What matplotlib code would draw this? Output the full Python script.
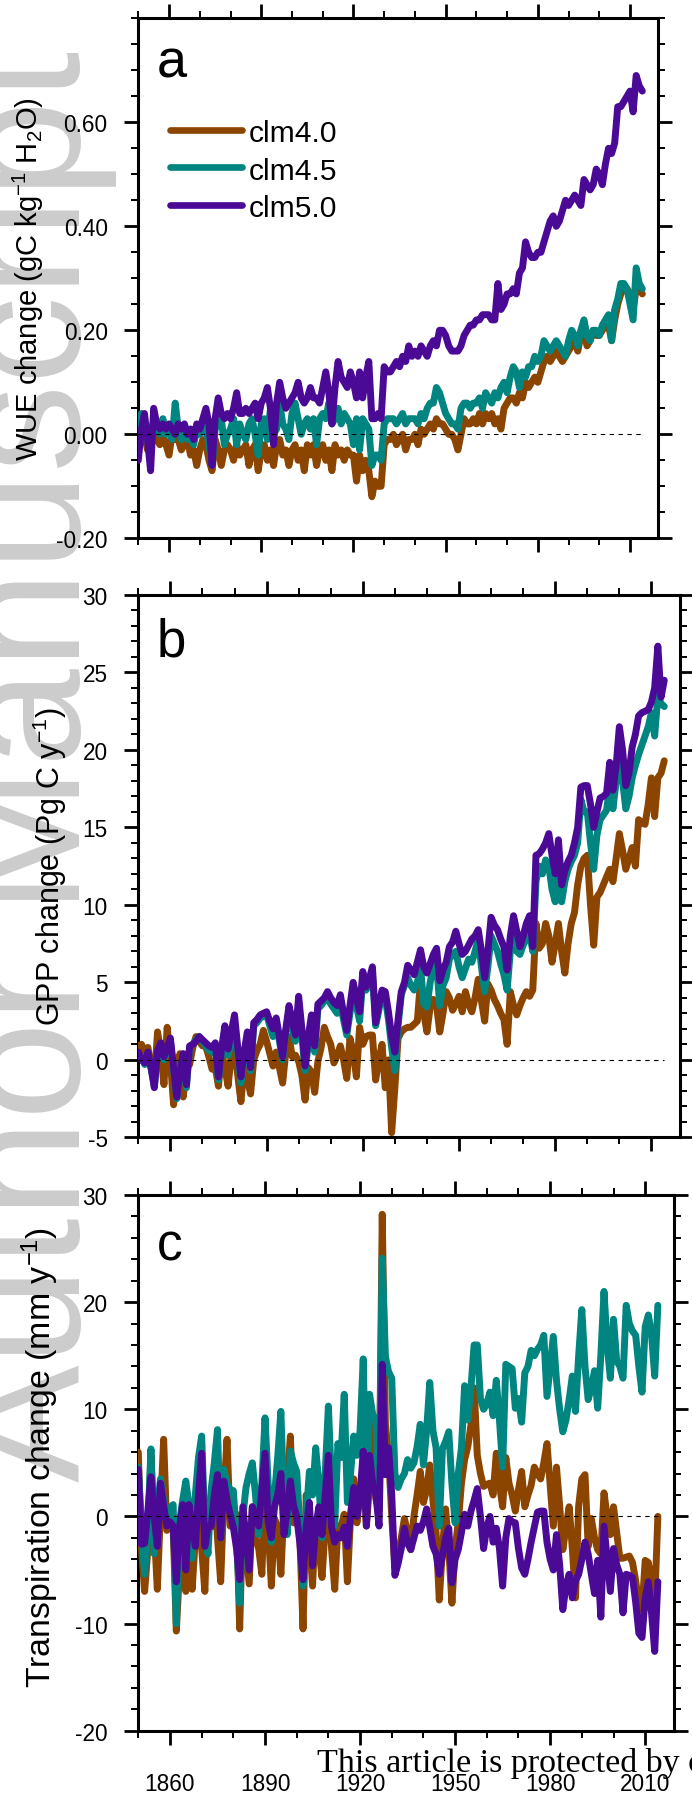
import matplotlib
matplotlib.use("Agg")
import matplotlib.pyplot as plt
import numpy as np
from matplotlib.lines import Line2D
from matplotlib.ticker import FixedLocator, MultipleLocator, FormatStrFormatter

plt.rcParams["font.family"] = ["Liberation Sans", "DejaVu Sans"]
plt.rcParams["mathtext.fontset"] = "custom"
plt.rcParams["mathtext.rm"] = "Liberation Sans"
plt.rcParams["mathtext.it"] = "Liberation Sans"
plt.rcParams["axes.unicode_minus"] = False

# ---- data: annual global changes, 1850-2014 ----
years = np.arange(1850, 2015)
models = ["clm4.0", "clm4.5", "clm5.0"]
colors = ["#8B4500", "#008580", "#4B0A96"]

wue_clm40 = [
    0.00, 0.03, 0.00, -0.03, -0.01, 0.02, -0.01, -0.02, 0.00, -0.02,
    -0.04, 0.00, -0.01, -0.01, -0.03, -0.02, -0.01, -0.04, -0.03, -0.06,
    -0.03, -0.01, -0.02, -0.05, -0.07, -0.01, -0.03, -0.06, -0.03, -0.02,
    -0.03, -0.05, -0.02, -0.04, -0.03, -0.02, -0.06, -0.03, -0.02, -0.07,
    -0.03, -0.02, -0.05, -0.03, -0.06, -0.02, -0.01, -0.04, -0.03, -0.06,
    -0.03, -0.02, -0.05, -0.03, -0.07, -0.02, -0.04, -0.02, -0.06, -0.03,
    -0.02, -0.05, -0.03, -0.07, -0.02, -0.04, -0.03, -0.05, -0.03, -0.04,
    -0.04, -0.09, -0.04, -0.07, -0.05, -0.07, -0.12, -0.09, -0.10, -0.10,
    -0.02, -0.01, -0.01, 0.00, -0.02, -0.01, 0.00, -0.03, -0.01, -0.01,
    0.00, -0.02, 0.01, 0.00, 0.01, 0.02, 0.01, 0.03, 0.02, 0.02,
    0.01, 0.00, 0.00, -0.01, -0.03, 0.00, 0.03, 0.02, 0.02, 0.03,
    0.02, 0.04, 0.02, 0.04, 0.03, 0.04, 0.02, 0.03, 0.01, 0.05,
    0.06, 0.07, 0.07, 0.06, 0.08, 0.07, 0.10, 0.09, 0.10, 0.11,
    0.10, 0.12, 0.14, 0.15, 0.14, 0.15, 0.16, 0.15, 0.14, 0.15,
    0.16, 0.17, 0.18, 0.16, 0.19, 0.20, 0.17, 0.18, 0.20, 0.19,
    0.19, 0.20, 0.21, 0.21, 0.18, 0.22, 0.25, 0.27, 0.28, 0.28,
    0.27, 0.24, 0.28, 0.28, 0.27]
wue_clm45 = [
    -0.02, 0.04, 0.02, -0.01, -0.03, 0.03, 0.01, 0.00, 0.03, 0.00,
    0.01, -0.01, 0.06, 0.01, -0.01, 0.00, -0.01, 0.01, -0.02, 0.01,
    0.00, 0.02, 0.01, -0.02, -0.06, 0.01, 0.02, 0.03, -0.02, 0.00,
    0.01, 0.03, -0.02, 0.02, 0.00, -0.01, 0.02, 0.03, 0.00, -0.04,
    0.02, 0.03, -0.01, 0.05, 0.00, 0.01, 0.06, 0.02, 0.01, -0.01,
    0.04, 0.06, 0.03, 0.00, 0.02, 0.03, 0.01, 0.03, -0.02, 0.03,
    0.04, 0.03, 0.06, 0.02, 0.03, 0.05, 0.02, 0.04, 0.03, 0.02,
    -0.02, 0.03, -0.03, 0.03, 0.02, 0.01, -0.06, -0.04, -0.04, -0.05,
    0.02, 0.03, 0.03, 0.03, 0.02, 0.03, 0.04, 0.02, 0.03, 0.03,
    0.03, 0.02, 0.04, 0.03, 0.05, 0.06, 0.06, 0.09, 0.08, 0.06,
    0.04, 0.03, 0.02, 0.02, 0.01, 0.05, 0.06, 0.06, 0.05, 0.06,
    0.06, 0.07, 0.05, 0.08, 0.07, 0.06, 0.08, 0.07, 0.09, 0.10,
    0.08, 0.11, 0.13, 0.12, 0.09, 0.12, 0.11, 0.13, 0.13, 0.15,
    0.14, 0.15, 0.18, 0.17, 0.16, 0.17, 0.18, 0.17, 0.16, 0.15,
    0.18, 0.20, 0.19, 0.17, 0.20, 0.22, 0.19, 0.18, 0.20, 0.20,
    0.19, 0.21, 0.22, 0.23, 0.18, 0.24, 0.26, 0.29, 0.29, 0.28,
    0.25, 0.22, 0.32, 0.29, 0.28]
wue_clm50 = [
    -0.05, 0.01, 0.04, -0.01, -0.07, 0.05, 0.02, 0.01, 0.02, 0.01,
    0.02, 0.01, 0.00, 0.02, 0.01, 0.02, 0.00, 0.01, -0.01, 0.02,
    0.01, 0.03, 0.05, 0.02, -0.06, 0.03, 0.07, 0.04, 0.03, 0.04,
    0.03, 0.05, 0.08, 0.04, 0.04, 0.05, 0.04, 0.05, 0.06, 0.03,
    0.06, 0.07, 0.09, 0.05, -0.02, 0.06, 0.10, 0.07, 0.05, 0.06,
    0.07, 0.08, 0.10, 0.07, 0.06, 0.07, 0.09, 0.07, 0.07, 0.06,
    0.09, 0.12, 0.08, 0.02, 0.09, 0.14, 0.11, 0.10, 0.09, 0.12,
    0.10, 0.07, 0.12, 0.07, 0.11, 0.14, 0.03, 0.03, 0.04, 0.03,
    0.13, 0.12, 0.12, 0.13, 0.14, 0.13, 0.15, 0.14, 0.17, 0.15,
    0.16, 0.15, 0.17, 0.16, 0.15, 0.17, 0.18, 0.17, 0.20, 0.20,
    0.19, 0.17, 0.16, 0.16, 0.16, 0.17, 0.19, 0.20, 0.21, 0.21,
    0.22, 0.22, 0.23, 0.23, 0.23, 0.22, 0.22, 0.29, 0.24, 0.25,
    0.27, 0.27, 0.28, 0.27, 0.31, 0.32, 0.37, 0.35, 0.34, 0.34,
    0.35, 0.35, 0.37, 0.39, 0.41, 0.42, 0.40, 0.41, 0.43, 0.45,
    0.44, 0.45, 0.46, 0.45, 0.44, 0.49, 0.48, 0.47, 0.48, 0.51,
    0.50, 0.48, 0.52, 0.55, 0.54, 0.56, 0.63, 0.63, 0.64, 0.65,
    0.66, 0.62, 0.69, 0.67, 0.66]

gpp_clm40 = [
    0.9, 1.0, 0.5, 0.8, -0.5, -1.3, 1.8, 0.5, -1.6, 2.1,
    0.0, -2.9, -1.0, 0.4, -2.4, -0.5, -0.3, 0.8, 1.5, 1.2,
    0.9, 0.9, 0.2, -0.6, -0.5, -1.7, 0.5, -0.5, -1.7, 0.3,
    0.9, -1.0, -2.7, -0.5, -1.2, -2.2, 0.0, 0.6, 1.0, 1.9,
    1.2, 0.4, -0.4, 0.5, -0.5, -1.5, 0.5, 1.5, 0.2, 0.3,
    -0.1, -1.0, -2.6, -0.5, -0.8, -2.1, -0.1, 0.8, 2.1, 1.5,
    1.0, -0.2, 0.3, 0.9, 0.0, -1.2, 1.4, 0.5, -1.1, 2.1,
    1.0, 1.5, 1.6, 1.6, -1.3, 0.0, 1.0, -1.8, 0.0, -4.7,
    -1.8, 1.4, 1.8, 2.0, 2.1, 2.1, 2.3, 2.5, 5.1, 3.0,
    1.8, 3.4, 3.9, 3.5, 1.8, 3.0, 4.4, 4.0, 3.2, 3.6,
    4.1, 3.1, 4.4, 3.6, 3.1, 4.0, 5.2, 3.8, 2.5, 4.9,
    4.5, 3.9, 3.5, 3.0, 2.6, 1.0, 4.4, 3.5, 2.9, 3.5,
    4.0, 4.4, 4.1, 4.5, 8.8, 7.2, 7.5, 8.8, 8.0, 6.3,
    7.5, 8.8, 7.0, 5.6, 7.5, 8.8, 9.5, 11.3, 12.5, 13.0,
    13.2, 10.0, 7.4, 10.5, 10.8, 11.3, 11.8, 12.3, 11.5, 13.0,
    14.6, 13.5, 12.3, 13.0, 13.7, 12.5, 15.5, 15.3, 15.2, 16.5,
    18.2, 15.7, 18.2, 18.5, 19.3]
gpp_clm45 = [
    0.3, 0.2, -0.3, 0.4, -0.6, -1.7, 0.5, 1.0, 0.0, 0.7,
    1.2, -0.6, -2.5, -1.0, 0.3, -1.8, 0.8, 1.0, 1.3, 1.5,
    1.2, 0.9, 0.6, 0.5, 0.7, -1.3, 0.5, 1.9, 0.3, 1.3,
    2.4, 0.5, -1.5, 0.2, 1.5, -0.7, 2.2, 2.4, 2.7, 2.8,
    2.9, 2.2, 1.5, 2.4, 1.2, 0.0, 1.8, 3.2, 2.0, 1.2,
    3.5, 1.6, -0.7, 1.0, 2.5, 0.5, 3.3, 3.5, 3.8, 4.0,
    3.6, 3.3, 3.0, 3.6, 2.6, 1.6, 3.0, 4.6, 3.5, 2.5,
    5.2, 4.5, 4.8, 5.6, 2.2, 3.2, 4.3, 4.0, 2.6, 0.8,
    -0.7, 2.2, 4.2, 4.8, 5.3, 4.8, 4.5, 5.0, 6.0, 3.6,
    3.4, 5.0, 6.0, 6.2, 3.5, 4.8, 5.3, 6.5, 6.8, 7.0,
    6.0, 5.3, 5.9, 6.5, 6.3, 7.0, 7.8, 6.0, 4.4, 6.0,
    8.0, 7.5, 7.0, 6.2, 5.5, 4.5, 7.0, 8.0, 7.0, 6.8,
    7.4, 7.8, 8.2, 7.0, 11.5, 12.5, 12.0, 12.9, 12.5, 11.0,
    10.2, 12.3, 10.2, 11.5, 12.3, 12.8, 13.2, 14.0, 16.8, 16.0,
    16.0, 14.0, 12.3, 14.5, 15.5, 15.8, 16.1, 17.7, 16.2, 18.0,
    19.4, 18.0, 16.2, 17.0, 18.2, 19.0, 19.7, 20.3, 20.9, 21.5,
    22.4, 20.9, 23.5, 23.0, 22.8]
gpp_clm50 = [
    0.5, 0.0, -0.2, 0.5, -0.5, -1.8, 0.6, 1.1, 0.2, 0.8,
    1.4, -0.5, -2.4, -0.8, 0.4, -1.6, 0.9, 1.0, 1.2, 1.5,
    1.3, 1.1, 0.9, 0.8, 1.1, -1.1, 0.8, 2.2, 0.7, 1.8,
    2.9, 0.8, -1.1, 0.5, 1.8, -0.5, 2.4, 2.6, 2.9, 3.0,
    3.1, 2.5, 2.0, 2.7, 1.5, 0.2, 2.0, 3.5, 2.5, 1.6,
    4.1, 2.0, -0.4, 1.5, 2.9, 0.9, 3.6, 3.8, 4.0, 4.4,
    4.0, 3.7, 3.5, 4.2, 3.0, 1.9, 3.5, 5.0, 4.0, 3.1,
    5.7, 4.7, 5.2, 6.0, 2.4, 3.5, 4.5, 4.4, 3.1, 1.5,
    0.5, 2.6, 4.4, 5.0, 6.1, 5.8, 5.5, 6.3, 7.1, 6.0,
    5.6, 6.2, 6.8, 7.2, 5.1, 5.8, 6.3, 7.3, 7.6, 8.3,
    7.5, 6.8, 7.0, 7.4, 7.8, 8.0, 8.4, 7.0, 5.3, 7.0,
    9.2, 8.7, 8.4, 7.8, 7.3, 5.8, 8.0, 9.3, 8.3, 7.3,
    8.0, 8.8, 9.3, 7.3, 13.2, 13.3, 13.6, 14.0, 14.6, 13.2,
    12.0, 14.2, 11.3, 12.2, 12.8, 13.2, 14.0, 15.0, 17.6, 17.7,
    17.7, 16.5, 15.0, 16.0, 16.9, 17.0, 17.2, 19.2, 17.4, 19.0,
    21.5, 20.0, 17.7, 18.5, 20.2, 21.0, 22.2, 22.4, 22.5, 22.6,
    23.1, 24.0, 26.7, 23.4, 24.5]

tr_clm40 = [
    6.0, -3.0, -7.0, -3.1, 5.7, -1.0, -6.8, 0.5, 7.2, -1.3,
    -0.9, -1.0, -10.7, -5.0, -0.2, -7.0, 0.9, -6.8, -2.0, -0.2,
    -3.0, -7.0, 1.3, -1.0, 3.5, -2.0, -6.1, 2.0, 7.2, -0.9,
    -0.5, 0.2, -10.5, 0.2, -3.0, -6.3, 0.9, -2.0, -3.0, -5.4,
    3.1, -1.0, -6.5, -0.2, -1.0, -5.4, 1.0, 3.0, 7.5, -0.6,
    0.2, -2.0, -10.5, 2.0, -2.0, -6.5, -0.2, -3.0, -5.7, -1.0,
    3.9, -3.0, -6.8, -0.9, -1.0, 0.2, -6.1, 0.0, 3.5, -0.6,
    2.0, 5.0, -0.9, 3.0, 8.6, 1.6, 0.5, 28.2, 8.6, 5.7,
    0.0, -4.8, -3.5, -2.0, -0.2, -1.5, -3.1, 0.0, 2.0, 4.2,
    1.3, 2.5, 4.8, 1.5, -1.5, -7.8, -3.0, 0.7, -3.0, -8.1,
    -3.0, -0.6, 3.1, 5.3, 6.5, 8.5, 12.0, 5.7, 4.0, 2.8,
    3.0, 3.1, 2.0, 5.9, 3.0, 0.9, 5.5, 3.1, 2.0, 0.5,
    2.5, 4.2, 0.9, 2.0, 2.9, 4.6, 4.0, 3.5, 5.0, 6.8,
    3.0, -0.9, 4.6, 1.0, -3.1, -1.0, 0.9, -3.0, -7.6, 1.0,
    3.5, 3.9, -2.8, -0.2, -2.0, -3.1, -3.5, 2.2, 0.0, -1.7,
    0.9, -1.5, -3.9, -3.9, -3.8, -3.7, -4.3, -6.0, -8.3, -8.7,
    -4.1, -4.3, -6.0, -8.1, 0.0]
tr_clm45 = [
    4.6, -1.0, -5.4, -0.9, 6.3, -3.5, 0.5, 3.5, 1.5, -0.2,
    0.8, 1.1, -10.0, -0.6, 1.5, 3.3, 1.0, -3.9, 2.0, 5.5,
    7.5, -1.0, -3.5, 2.5, 5.0, 8.1, -2.0, 4.4, 3.0, 2.5,
    2.4, -2.0, -8.1, 0.0, 2.7, 4.0, 5.0, 2.0, -1.7, 3.0,
    9.2, 3.0, -2.4, 2.0, 5.5, 9.8, 1.0, -1.7, 6.1, 5.0,
    4.2, -1.0, -6.5, 0.0, 4.2, 2.0, 6.4, 3.0, -2.0, 4.0,
    10.3, 3.0, -0.9, 6.8, 5.5, 11.4, 1.3, 4.0, 7.5, 5.7,
    8.0, 14.7, 0.5, 11.4, 9.5, 9.0, 0.9, 24.1, 14.9, 13.5,
    12.9, 4.0, 2.7, 3.5, 4.0, 5.3, 4.5, 5.0, 6.5, 8.6,
    4.8, 8.0, 12.5, 8.0, 6.4, -0.9, 6.3, 7.0, 7.9, 3.0,
    -0.6, 4.0, 6.4, 12.2, 9.0, 12.0, 16.0, 16.0, 11.0, 10.0,
    10.5, 11.6, 9.4, 12.7, 9.0, 4.6, 14.2, 14.0, 13.8, 10.1,
    11.0, 8.8, 13.4, 14.0, 15.5, 15.0, 15.6, 16.0, 16.9, 11.2,
    14.0, 16.8, 12.7, 10.0, 7.9, 9.0, 10.9, 13.1, 9.8, 15.0,
    19.3, 14.0, 10.9, 12.0, 13.6, 10.1, 15.0, 21.0, 16.0, 12.9,
    18.4, 14.5, 14.0, 12.9, 19.7, 18.0, 17.3, 16.9, 14.0, 11.6,
    17.7, 18.8, 17.0, 13.1, 19.7]
tr_clm50 = [
    4.4, -2.6, -2.5, 0.5, 3.7, 0.0, -2.8, 3.1, 1.0, -0.9,
    -0.5, -0.9, -6.1, -1.0, 1.1, -5.0, 1.1, -1.0, -2.8, 2.0,
    5.9, -2.8, -1.0, -0.9, 2.0, 3.9, -2.0, 3.3, 1.5, 0.2,
    -1.0, -3.0, -5.9, 0.9, -2.0, -5.0, 0.9, 0.0, -0.9, 2.5,
    5.9, -0.5, -2.0, 0.9, 2.0, 4.0, -1.7, 0.5, 3.3, 1.0,
    0.0, -2.5, -5.9, -1.0, 1.3, -4.6, -1.0, 0.9, -1.7, 2.0,
    5.7, -1.0, -2.4, -1.7, -2.0, -1.0, -2.8, 0.0, 2.7, 0.0,
    2.0, 6.1, -0.9, 5.7, 3.0, 2.0, -0.9, 14.2, 3.9, 6.4,
    2.0, -5.5, -4.4, -3.0, -1.1, -2.5, -3.1, -2.0, -0.9, -1.3,
    -0.5, 0.7, -1.0, -2.8, -3.5, -5.4, -3.7, -2.0, -1.1, -6.2,
    -4.0, -3.1, -1.5, 0.2, -0.9, 0.5, 1.5, 2.6, 0.0, -3.0,
    -1.0, 0.0, -2.4, -1.1, -3.0, -6.5, -2.0, -0.2, -0.5, -0.6,
    -3.0, -4.8, -5.4, -4.0, -2.4, -1.0, 0.4, 0.5, 0.5, -2.4,
    -4.0, -5.0, -1.7, -4.5, -8.7, -6.5, -5.4, -7.6, -6.0, -5.4,
    -4.0, -2.4, -3.5, -5.4, -7.2, -4.1, -9.4, -0.9, -4.0, -7.0,
    -3.0, -4.5, -5.4, -9.0, -5.4, -5.5, -5.7, -8.0, -10.9, -11.3,
    -7.6, -6.1, -9.0, -12.6, -6.1]

W, H = 692, 1799
fig = plt.figure(figsize=(W / 100, H / 100), dpi=100)


def px_axes(left, top, right, bottom):
    return fig.add_axes([left / W, 1 - bottom / H, (right - left) / W, (bottom - top) / H])


def fx(x):
    return x / W


def fy(y):
    return 1 - y / H


panels = [
    dict(box=(138.3, 19.3, 657.7, 539.3), series=[wue_clm40, wue_clm45, wue_clm50],
         ylim=(-0.2, 0.8), major=[-0.2, 0.0, 0.2, 0.4, 0.6], minor=0.05, fmt="%.2f",
         label="WUE change (gC kg$^{-1}$ H$_2$O)", lab_xy=(28, 279), lab_fs=21,
         letter="a", let_y=77, let_fs=39),
    dict(box=(138.3, 596, 680.3, 1138.3), series=[gpp_clm40, gpp_clm45, gpp_clm50],
         ylim=(-5, 30), major=[-5, 0, 5, 10, 15, 20, 25, 30], minor=1, fmt="%d",
         label="GPP change (Pg C y$^{-1}$)", lab_xy=(50, 867), lab_fs=22,
         letter="b", let_y=656.5, let_fs=38),
    dict(box=(138.3, 1196, 673.7, 1731.7), series=[tr_clm40, tr_clm45, tr_clm50],
         ylim=(-20, 30), major=[-20, -10, 0, 10, 20, 30], minor=2, fmt="%d",
         label="Transpiration change (mm y$^{-1}$)", lab_xy=(40, 1457), lab_fs=24.4,
         letter="c", let_y=1261, let_fs=37),
]

# watermark, behind everything
fig.text(fx(80), fy(1482), "Author Manuscript", rotation=90, rotation_mode="anchor",
         ha="left", va="baseline", fontsize=127, color="#cccccc", zorder=-5)

for i, p in enumerate(panels):
    ax = px_axes(*p["box"])
    ax.set_facecolor("none")
    for vals, c in zip(p["series"], colors):
        ax.plot(years, vals, color=c, lw=5.0, solid_joinstyle="round",
                solid_capstyle="round", zorder=3)
    ax.plot([years[0], years[-1]], [0, 0], color="k", lw=0.8, ls=(0, (4, 4)), zorder=6)
    ax.set_xlim(1850, 2019)
    ax.set_ylim(*p["ylim"])
    ax.xaxis.set_major_locator(MultipleLocator(30))
    ax.xaxis.set_minor_locator(MultipleLocator(10))
    ax.yaxis.set_major_locator(FixedLocator(p["major"]))
    ax.yaxis.set_minor_locator(MultipleLocator(p["minor"]))
    ax.yaxis.set_major_formatter(FormatStrFormatter(p["fmt"]))
    ax.tick_params(which="both", direction="out", top=True, right=True,
                   labelsize=16.3, labelbottom=(i == 2))
    ax.tick_params(which="major", length=10, width=2.0)
    ax.tick_params(which="minor", length=5, width=1.4)
    ax.tick_params(axis="y", pad=12)
    ax.tick_params(axis="x", pad=20)
    for s in ax.spines.values():
        s.set_linewidth(2.2)
    fig.text(fx(p["lab_xy"][0]), fy(p["lab_xy"][1]), p["label"], rotation=90,
             ha="center", va="center", fontsize=p["lab_fs"])
    fig.text(fx(157), fy(p["let_y"]), p["letter"], ha="left", va="baseline",
             fontsize=p["let_fs"])

# legend in panel a
leg_y = [131, 168.4, 205.9]
for name, c, y in zip(models, colors, leg_y):
    fig.add_artist(Line2D([fx(170), fx(241.5)], [fy(y), fy(y)], color=c, lw=4.8,
                          solid_capstyle="round"))
    fig.text(fx(249), fy(y + 11.4), name, ha="left", va="baseline", fontsize=21.6)

fig.text(fx(317), fy(1772), "This article is protected by copyright. All rights reserved",
         family="Liberation Serif", fontsize=24.5, ha="left", va="baseline", zorder=10)

fig.savefig("out.png", dpi=100)
